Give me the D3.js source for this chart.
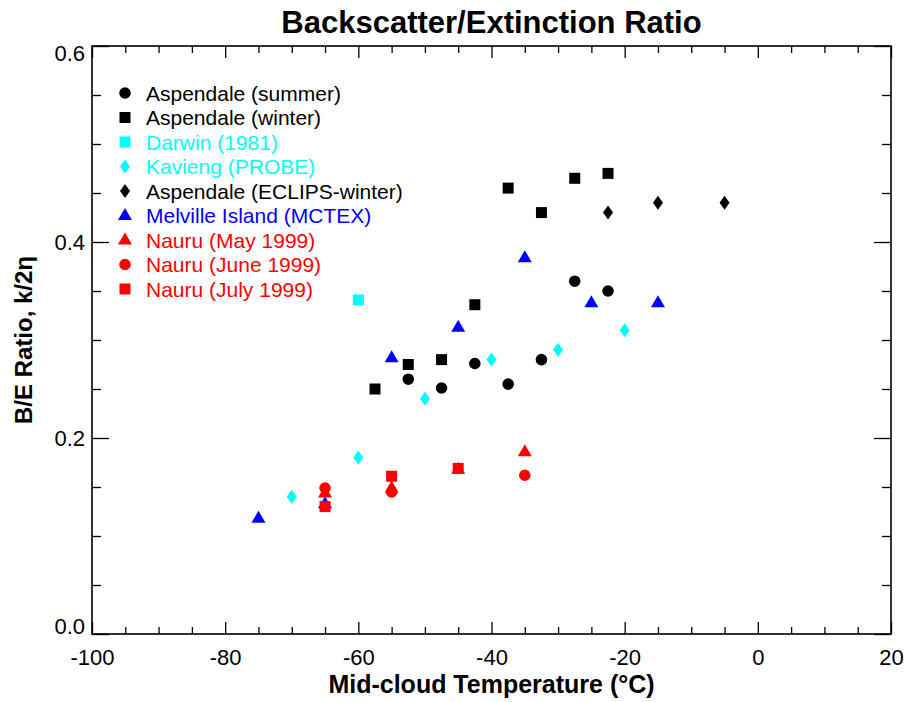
<html>
<head>
<script src="https://d3js.org/d3.v7.min.js"></script>
<style>
  body { margin: 0; background: #fff; }
  text { font-family: "Liberation Sans", Arial, Helvetica, sans-serif; }
</style>
</head>
<body>
<div id="chart"></div>
<script>
// series, in legend / drawing order
var seriesNames = ["Aspendale (summer)", "Aspendale (winter)", "Darwin (1981)", "Kavieng (PROBE)",
                   "Aspendale (ECLIPS-winter)", "Melville Island (MCTEX)", "Nauru (May 1999)",
                   "Nauru (June 1999)", "Nauru (July 1999)"];
var seriesColors = ["#000000", "#000000", "#00ffff", "#00ffff", "#000000", "#0000ff", "#ff0000", "#ff0000", "#ff0000"];
var seriesShapes = ["circle", "square", "square", "diamond", "diamond", "triangle", "triangle", "circle", "square"];

var summerT = [-52.5, -47.5, -42.5, -37.5, -32.5, -27.5, -22.5];
var summerR = [0.26, 0.251, 0.276, 0.255, 0.28, 0.36, 0.35];
var winterT = [-57.5, -52.5, -47.5, -42.5, -37.5, -32.5, -27.5, -22.5];
var winterR = [0.25, 0.275, 0.28, 0.336, 0.455, 0.43, 0.465, 0.47];
var darwinT = [-60];
var darwinR = [0.341];
var kaviengT = [-70, -60, -50, -40, -30, -20];
var kaviengR = [0.14, 0.18, 0.24, 0.28, 0.29, 0.31];
var eclipsT = [-22.5, -15, -5];
var eclipsR = [0.43, 0.44, 0.44];
var melvilleT = [-75, -65, -55, -45, -35, -25, -15];
var melvilleR = [0.118, 0.133, 0.282, 0.313, 0.384, 0.338, 0.338];
var nauruMayT = [-65, -55, -45, -35];
var nauruMayR = [0.144, 0.149, 0.168, 0.186];
var nauruJunT = [-65, -55, -35];
var nauruJunR = [0.149, 0.145, 0.162];
var nauruJulT = [-65, -55, -45];
var nauruJulR = [0.13, 0.161, 0.169];

var seriesT = [summerT, winterT, darwinT, kaviengT, eclipsT, melvilleT, nauruMayT, nauruJunT, nauruJulT];
var seriesR = [summerR, winterR, darwinR, kaviengR, eclipsR, melvilleR, nauruMayR, nauruJunR, nauruJulR];

var xTicks = [-100, -80, -60, -40, -20, 0, 20];
var yTicks = [0.0, 0.2, 0.4, 0.6];

var W = 908, H = 702;
var margin = {top: 46, right: 17, bottom: 68, left: 92};
var width = W - margin.left - margin.right,
    height = H - margin.top - margin.bottom;

var svg = d3.select("#chart").append("svg")
    .attr("width", W).attr("height", H);

var g = svg.append("g")
    .attr("transform", "translate(" + margin.left + "," + margin.top + ")");

var x = d3.scaleLinear().domain([-100, 20]).range([0, width]);
var y = d3.scaleLinear().domain([0, 0.6]).range([height, 0]);

var xMinor = d3.range(-100, 20.01, 5).filter(function(v) { return v % 20 !== 0; });
var yMinor = d3.range(0, 0.601, 0.05).filter(function(v) { return Math.round(v * 100) % 20 !== 0; });

function styleAxis(sel) {
  sel.select(".domain").remove();
  sel.selectAll(".tick line").attr("stroke", "#000").attr("stroke-width", 1.3);
}

// bottom
g.append("g").attr("transform", "translate(0," + height + ")")
  .call(d3.axisBottom(x).tickValues(xTicks).tickSize(-12).tickPadding(31)
        .tickFormat(function(d) { return String(d); }))
  .call(styleAxis)
  .selectAll("text").attr("font-size", 22).attr("fill", "#000").attr("dy", "0");
g.append("g").attr("transform", "translate(0," + height + ")")
  .call(d3.axisBottom(x).tickValues(xMinor).tickSize(-7).tickFormat(""))
  .call(styleAxis);
// top
g.append("g")
  .call(d3.axisTop(x).tickValues(xTicks).tickSize(-12).tickFormat(""))
  .call(styleAxis);
g.append("g")
  .call(d3.axisTop(x).tickValues(xMinor).tickSize(-7).tickFormat(""))
  .call(styleAxis);
// left (end labels pulled inward like the original)
g.append("g")
  .call(d3.axisLeft(y).tickValues(yTicks).tickSize(-17).tickPadding(7)
        .tickFormat(d3.format(".1f")))
  .call(styleAxis)
  .selectAll("text").attr("font-size", 22).attr("fill", "#000")
  .attr("dy", function(d) { return d === 0 ? "-0.02em" : (d === 0.6 ? "0.68em" : "0.36em"); });
g.append("g")
  .call(d3.axisLeft(y).tickValues(yMinor).tickSize(-9).tickFormat(""))
  .call(styleAxis);
// right
g.append("g").attr("transform", "translate(" + width + ",0)")
  .call(d3.axisRight(y).tickValues(yTicks).tickSize(-17).tickFormat(""))
  .call(styleAxis);
g.append("g").attr("transform", "translate(" + width + ",0)")
  .call(d3.axisRight(y).tickValues(yMinor).tickSize(-9).tickFormat(""))
  .call(styleAxis);

// frame
g.append("rect")
  .attr("x", 0).attr("y", 0).attr("width", width).attr("height", height)
  .attr("fill", "none").attr("stroke", "#000").attr("stroke-width", 1.6);

// marker shapes
function shapePath(s) {
  if (s === "circle") return d3.symbol().type(d3.symbolCircle).size(Math.PI * 5.8 * 5.8)();
  if (s === "square") return "M-5.5,-5.5H5.5V5.5H-5.5Z";
  if (s === "diamond") return "M0,-7L5,0L0,7L-5,0Z";
  if (s === "triangle") return "M0,-7.5L7,4.5L-7,4.5Z";
}

seriesNames.forEach(function(name, i) {
  var pts = seriesT[i].map(function(t, j) { return {t: t, r: seriesR[i][j]}; });
  g.append("g").selectAll("path")
    .data(pts).enter().append("path")
    .attr("d", shapePath(seriesShapes[i]))
    .attr("transform", function(d) { return "translate(" + x(d.t) + "," + y(d.r) + ")"; })
    .attr("fill", seriesColors[i]);
});

// legend
var leg = svg.append("g");
seriesNames.forEach(function(name, i) {
  var ly = 93 + i * 24.5;
  leg.append("path")
    .attr("d", shapePath(seriesShapes[i]))
    .attr("transform", "translate(125," + ly + ")")
    .attr("fill", seriesColors[i]);
  leg.append("text")
    .attr("x", 146).attr("y", ly).attr("dy", "0.36em")
    .attr("font-size", 21).attr("fill", seriesColors[i])
    .text(name);
});

// titles
svg.append("text")
  .attr("x", margin.left + width / 2).attr("y", 33)
  .attr("text-anchor", "middle").attr("font-size", 31).attr("font-weight", "bold")
  .text("Backscatter/Extinction Ratio");

svg.append("text")
  .attr("x", margin.left + width / 2).attr("y", 693)
  .attr("text-anchor", "middle").attr("font-size", 25).attr("font-weight", "bold")
  .text("Mid-cloud Temperature (°C)");

svg.append("text")
  .attr("transform", "translate(32," + (margin.top + height / 2) + ") rotate(-90)")
  .attr("text-anchor", "middle").attr("font-size", 24).attr("font-weight", "bold")
  .text("B/E Ratio, k/2η");
</script>
</body>
</html>
